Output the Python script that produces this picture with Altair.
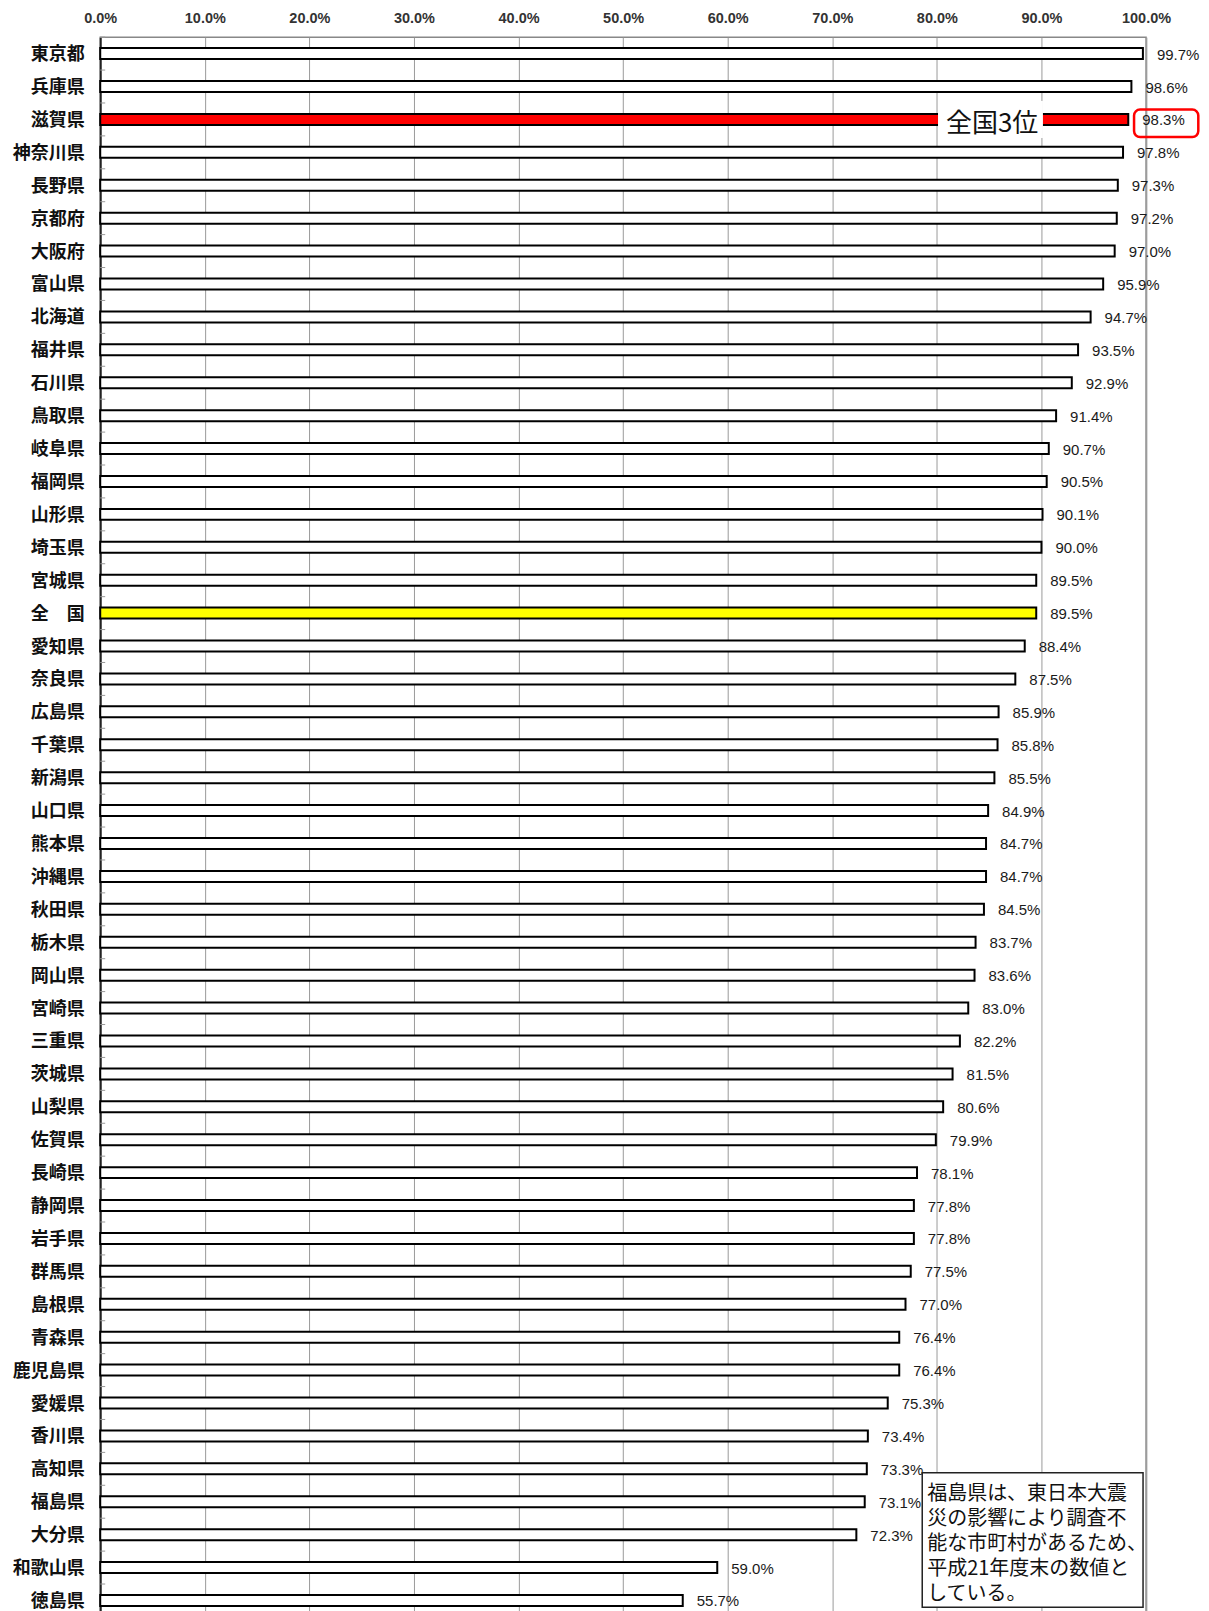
import altair as alt
import pandas as pd

prefs = ["東京都", "兵庫県", "滋賀県", "神奈川県", "長野県", "京都府", "大阪府", "富山県",
         "北海道", "福井県", "石川県", "鳥取県", "岐阜県", "福岡県", "山形県", "埼玉県",
         "宮城県", "全　国", "愛知県", "奈良県", "広島県", "千葉県", "新潟県", "山口県",
         "熊本県", "沖縄県", "秋田県", "栃木県", "岡山県", "宮崎県", "三重県", "茨城県",
         "山梨県", "佐賀県", "長崎県", "静岡県", "岩手県", "群馬県", "島根県", "青森県",
         "鹿児島県", "愛媛県", "香川県", "高知県", "福島県", "大分県", "和歌山県", "徳島県"]
rates = [99.7, 98.6, 98.3, 97.8, 97.3, 97.2, 97.0, 95.9,
         94.7, 93.5, 92.9, 91.4, 90.7, 90.5, 90.1, 90.0,
         89.5, 89.5, 88.4, 87.5, 85.9, 85.8, 85.5, 84.9,
         84.7, 84.7, 84.5, 83.7, 83.6, 83.0, 82.2, 81.5,
         80.6, 79.9, 78.1, 77.8, 77.8, 77.5, 77.0, 76.4,
         76.4, 75.3, 73.4, 73.3, 73.1, 72.3, 59.0, 55.7]
x_ticks = [0, 10, 20, 30, 40, 50, 60, 70, 80, 90, 100]
highlight_pref = "滋賀県"
national_label = "全　国"
rank_text = "全国3位"
note_lines = ["福島県は、東日本大震", "災の影響により調査不", "能な市町村があるため、",
              "平成21年度末の数値と", "している。"]

df = pd.DataFrame({"pref": prefs, "rate": rates})

W = 1046.7
STEP = 32.94
H = STEP * len(prefs)

x_enc = alt.X(
    "rate:Q",
    title=None,
    scale=alt.Scale(domain=[0, 100], nice=False, zero=True),
    axis=alt.Axis(
        orient="top", values=x_ticks,
        labelExpr="format(datum.value, '.1f') + '%'",
        grid=True, gridColor="#9a9a9a", gridWidth=1,
        ticks=False, domain=False, labelFlush=False,
        labelFont="Liberation Sans", labelFontSize=14.5, labelFontWeight="bold",
        labelColor="#333", labelPadding=12,
    ),
)
y_enc = alt.Y(
    "pref:N",
    sort=prefs,
    title=None,
    scale=alt.Scale(paddingInner=0, paddingOuter=0),
    axis=alt.Axis(
        orient="left", labelFont="Noto Sans CJK JP", labelFontSize=18,
        labelFontWeight="bold", labelColor="#111", labelPadding=16, labelOffset=1.5,
        ticks=False, domainColor="#222", domainWidth=2, grid=False, labelAngle=0,
    ),
)

base = alt.Chart(df).transform_calculate(
    kind=f"datum.pref == '{highlight_pref}' ? 'hl' : (datum.pref == '{national_label}' ? 'nat' : 'other')",
    label="format(datum.rate, '.1f') + '%'",
)

ticks = base.mark_rule(color="#999", strokeWidth=1, yOffset=-STEP / 2).encode(
    y=y_enc, x=alt.value(0), x2=alt.value(5)
)

bars = base.mark_bar(size=11, stroke="#000", strokeWidth=2).encode(
    x=x_enc,
    y=y_enc,
    fill=alt.Fill("kind:N",
                  scale=alt.Scale(domain=["hl", "nat", "other"],
                                  range=["#FF0000", "#FFFF00", "#FFFFFF"]),
                  legend=None),
)

labels = base.mark_text(align="left", baseline="middle", dx=14, dy=1, font="Liberation Sans",
                        fontSize=15, color="#1a1a1a").encode(
    x=x_enc, y=y_enc, text="label:N"
)

one = alt.Chart(pd.DataFrame({"a": [0]}))

white_box = one.mark_rect(fill="white").encode(
    x=alt.value(838.5), x2=alt.value(943.5), y=alt.value(64), y2=alt.value(101)
)
rank = one.mark_text(text=rank_text, font="Noto Sans CJK JP", fontSize=26,
                     align="center", baseline="middle", color="#111").encode(
    x=alt.value(892.7), y=alt.value(86.5)
)
red_box = one.mark_rect(fillOpacity=0, fill="white", stroke="#FF0000", strokeWidth=2.5,
                        cornerRadius=6).encode(
    x=alt.value(1034.7), x2=alt.value(1099), y=alt.value(72.5), y2=alt.value(100)
)
note_box = one.mark_rect(fill="white", stroke="#222", strokeWidth=1.5).encode(
    x=alt.value(822.7), x2=alt.value(1043.7), y=alt.value(1436.8), y2=alt.value(1571.5)
)
note_text = one.mark_text(text=note_lines, align="left", baseline="top", lineHeight=25,
                          font="Noto Sans CJK JP", fontSize=20, color="#111").encode(
    x=alt.value(827.7), y=alt.value(1448.5)
)

chart = alt.layer(ticks, bars, labels, white_box, rank, red_box, note_box, note_text).properties(
    width=W,
    height=H,
    autosize=alt.AutoSizeParams(type="none"),
    padding={"left": 92.3, "top": 28.5, "right": 55, "bottom": 5},
).configure_view(stroke="#888", strokeWidth=1.5)

chart.save("out.html", embed_options={"renderer": "svg", "actions": False})
